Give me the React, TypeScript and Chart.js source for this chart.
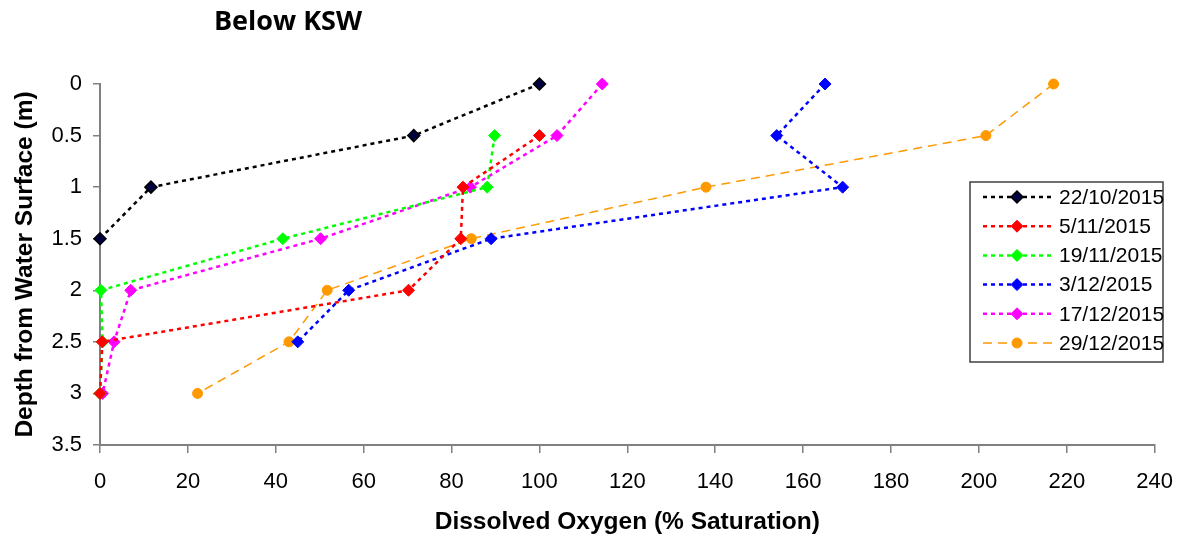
import React, { useEffect, useRef } from "react";
import { Chart, registerables } from "chart.js";

Chart.register(...registerables);

const depths = [0, 0.5, 1, 1.5, 2, 2.5, 3];
const seriesLabels = ["22/10/2015", "5/11/2015", "19/11/2015", "3/12/2015", "17/12/2015", "29/12/2015"];
const do2210 = [100, 71.4, 11.6, 0];
const do0511 = [100, 82.6, 82.1, 70.2, 0.5, 0];
const do1911 = [89.8, 88.1, 41.6, 0.2, 0.6, 0];
const do0312 = [165, 154, 169, 89, 56.6, 45];
const do1712 = [114.3, 104, 84.3, 50.2, 7, 3.2, 0.6];
const do2912 = [217, 201.6, 137.9, 84.5, 51.7, 43, 22.2];
// 22/10 starts at 0 m; 5/11 and 19/11 start at 0.5 m
const startDepthIdx = [0, 1, 1, 0, 0, 0];
const seriesValues = [do2210, do0511, do1911, do0312, do1712, do2912];
const xTicks = [0, 20, 40, 60, 80, 100, 120, 140, 160, 180, 200, 220, 240];
const yTicks = [0, 0.5, 1, 1.5, 2, 2.5, 3, 3.5];

const colors = ["#000000", "#FF0000", "#00FF00", "#0000FF", "#FF00FF", "#FF9900"];
const fills = ["#000040", "#FF0000", "#00FF00", "#0000FF", "#FF00FF", "#FF9900"];

const FONT = "'Liberation Sans', Arial, sans-serif";

const legendPlugin = {
  id: "boxLegend",
  afterDraw(chart: any) {
    const ctx = chart.ctx;
    const bx = 970, by = 182, bw = 193, bh = 180;
    ctx.save();
    ctx.fillStyle = "#ffffff";
    ctx.fillRect(bx, by, bw, bh);
    ctx.strokeStyle = "#404040";
    ctx.lineWidth = 1.5;
    ctx.setLineDash([]);
    ctx.strokeRect(bx, by, bw, bh);
    chart.data.datasets.forEach((ds: any, i: number) => {
      const y = by + 15 + i * 29.2;
      ctx.beginPath();
      ctx.strokeStyle = ds.borderColor;
      ctx.lineWidth = ds.borderWidth;
      ctx.setLineDash(ds.borderDash || []);
      ctx.moveTo(983, y);
      ctx.lineTo(1053, y);
      ctx.stroke();
      ctx.setLineDash([]);
      ctx.fillStyle = ds.pointBackgroundColor;
      ctx.strokeStyle = ds.pointBorderColor;
      ctx.lineWidth = ds.pointBorderWidth;
      ctx.beginPath();
      if (ds.pointStyle === "circle") {
        ctx.arc(1017, y, ds.pointRadius, 0, Math.PI * 2);
      } else {
        const r = ds.pointRadius;
        ctx.moveTo(1017, y - r);
        ctx.lineTo(1017 + r, y);
        ctx.lineTo(1017, y + r);
        ctx.lineTo(1017 - r, y);
        ctx.closePath();
      }
      ctx.fill();
      ctx.stroke();
      ctx.fillStyle = "#000000";
      ctx.font = `21px ${FONT}`;
      ctx.textBaseline = "middle";
      ctx.textAlign = "left";
      ctx.fillText(ds.label, 1059, y + 1);
    });
    ctx.restore();
  },
};

const titlePlugin = {
  id: "leftTitle",
  afterDraw(chart: any) {
    const ctx = chart.ctx;
    ctx.save();
    ctx.fillStyle = "#000000";
    ctx.font = "bold 27px 'Open Sans', sans-serif";
    ctx.textBaseline = "middle";
    ctx.textAlign = "center";
    ctx.fillText("Below KSW", 288, 22);
    ctx.restore();
  },
};

export default function App() {
  const ref = useRef<HTMLCanvasElement | null>(null);
  useEffect(() => {
    if (!ref.current) return;
    const datasets = seriesValues.map((vals, i) => ({
      label: seriesLabels[i],
      data: vals.map((v, j) => ({ x: v, y: depths[j + startDepthIdx[i]] })),
      showLine: true,
      borderColor: colors[i],
      borderWidth: i === 5 ? 1.5 : 2.5,
      borderDash: i === 5 ? [9, 6] : [4, 4],
      pointStyle: i === 5 ? "circle" : "rectRot",
      pointRadius: i === 5 ? 5 : 6,
      pointBackgroundColor: fills[i],
      pointBorderColor: colors[i],
      pointBorderWidth: i === 0 ? 1.5 : 1,
      pointHoverRadius: 5,
      clip: false,
    }));
    const chart = new Chart(ref.current, {
      type: "scatter",
      data: { datasets: datasets as any },
      plugins: [legendPlugin, titlePlugin],
      options: {
        animation: false,
        responsive: false,
        layout: { padding: { top: 84, right: 30, left: 0, bottom: 0 } },
        plugins: { legend: { display: false }, tooltip: { enabled: false }, title: { display: false } },
        scales: {
          x: {
            type: "linear",
            min: 0,
            max: 240,
            afterBuildTicks: (s: any) => { s.ticks = xTicks.map((v) => ({ value: v })); },
            afterFit: (s: any) => { s.height = 97; },
            grid: { drawOnChartArea: false, drawTicks: true, tickLength: 8, color: "#808080", lineWidth: 1.5 },
            border: { color: "#808080", width: 2 },
            ticks: { color: "#000000", font: { family: FONT, size: 22 }, padding: 16, maxRotation: 0, autoSkip: false, callback: (v: any) => String(v) },
            title: { display: true, text: "Dissolved Oxygen (% Saturation)", color: "#000000", font: { family: FONT, size: 24.5, weight: "bold" }, padding: { top: 4, bottom: 5 } },
          },
          y: {
            type: "linear",
            reverse: true,
            min: 0,
            max: 3.5,
            afterBuildTicks: (s: any) => { s.ticks = yTicks.map((v) => ({ value: v })); },
            afterFit: (s: any) => { s.width = 100; },
            grid: { drawOnChartArea: false, drawTicks: true, tickLength: 7, color: "#808080", lineWidth: 1.5 },
            border: { color: "#808080", width: 2 },
            ticks: { color: "#000000", font: { family: FONT, size: 22 }, padding: 11, autoSkip: false, callback: (v: any) => String(v) },
            title: { display: true, text: "Depth from Water Surface (m)", color: "#000000", font: { family: FONT, size: 24.5, weight: "bold" }, padding: { top: 11, bottom: 0 } },
          },
        },
      } as any,
    });
    return () => chart.destroy();
  }, []);
  return (
    <div style={{ position: "fixed", left: 0, top: 0, width: 1189, height: 542, background: "#fff" }}>
      <canvas ref={ref} width={1189} height={542} style={{ display: "block", width: 1189, height: 542 }} />
    </div>
  );
}
